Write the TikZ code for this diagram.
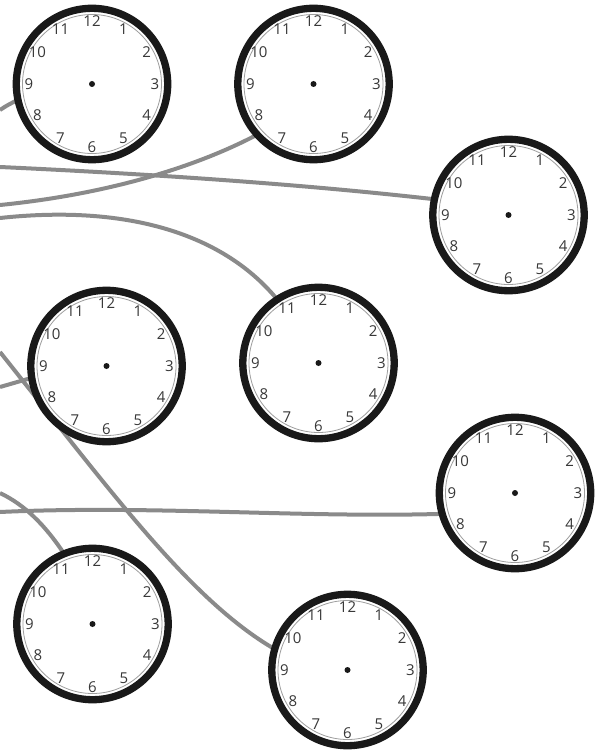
\documentclass[tikz,border=0pt]{standalone}
\usepackage{fontspec}
\newfontfamily\dialfont{Open Sans}
\usetikzlibrary{calc,backgrounds}
\tikzset{
  clockbody/.style={circle, draw=black!90, line width=7.3pt, fill=white,
    minimum size=151.4pt, inner sep=0pt, outer sep=0pt},
  dialring/.style={draw=black!38, line width=0.8pt},
  hour/.style={font=\dialfont\fontsize{15}{15}\selectfont, text=black!78, inner sep=0pt},
  wire/.style={draw=black!46, line width=4pt},
}

\begin{document}
\begin{tikzpicture}[x=1pt, y=1pt]
  \useasboundingbox (0,0) rectangle (595,-751);
  % clock faces
  \foreach \name/\cx/\cy in {c1/92/84, c2/313.5/84, c3/508.5/215, c4/106.5/366,
      c5/318.5/363, c6/515/493, c7/92.5/624, c8/347.5/670} {
    \node[clockbody] (\name) at (\cx,-\cy) {};
    \draw[dialring] (\name) circle (69.5);
    \fill[black!90] (\name) circle (3);
    \foreach \h in {1,...,12}
      \node[hour] (\name-\h) at ($(\name)+({90-30*\h}:63)$) {\h};
  }
  % wires from the left edge, behind the faces
  \begin{scope}[on background layer]
    \coordinate (sA) at (0,-110);
    \coordinate (sB) at (0,-167);
    \coordinate (sC) at (0,-205);
    \coordinate (sD) at (0,-218);
    \coordinate (sE) at (0,-352);
    \coordinate (sF) at (0,-387);
    \coordinate (sG) at (0,-493);
    \coordinate (sH) at (0,-512);
    \draw[wire] (sA) .. controls (6,-106) .. (c1.192);
    \draw[wire] (sB) .. controls (150,-174) and (300,-184) .. (c3.168);
    \draw[wire] (sC) .. controls (100,-195) and (190,-170) .. (c2.222);
    \draw[wire] (sD) .. controls (120,-205) and (220,-230) .. (c5.123);
    \draw[wire] (sE) .. controls (110,-490) and (190,-600) .. (c8.164);
    \draw[wire] (sF) -- (c4.189);
    \draw[wire] (sG) .. controls (25,-505) and (45,-525) .. (c7.112);
    \draw[wire] (sH) .. controls (150,-505) and (300,-518) .. (c6.196);
  \end{scope}
\end{tikzpicture}
\end{document}
